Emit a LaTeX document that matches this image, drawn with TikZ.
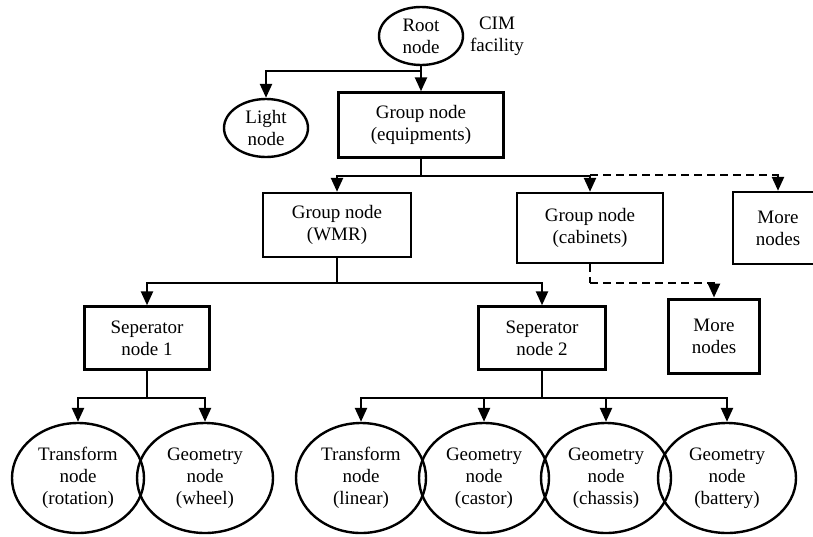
\documentclass[tikz,border=0pt]{standalone}
\usepackage{fontspec}
\setmainfont{Liberation Serif}
\usetikzlibrary{shapes.geometric,arrows.meta}
\begin{document}
\begin{tikzpicture}[x=1pt,y=-1pt,
  every node/.style={font=\fontsize{19}{22}\selectfont,align=center,inner sep=0pt},
  boxnode/.style={draw,line width=2.4pt,rectangle},
  ellnode/.style={draw,line width=2.4pt,ellipse},
  conn/.style={line width=2.4pt},
  arr/.style={line width=2.4pt,-{Triangle[width=12pt,length=14pt]}},
  dashline/.style={dash pattern=on 8pt off 5pt}]
\useasboundingbox (0,0) rectangle (813,536);
\clip (0,0) rectangle (813,536);
% top
\node[ellnode,minimum width=84pt,minimum height=58pt] (root) at (421,36) {Root\\node};
\node (cim) at (497,36) {CIM\\facility};
\node[ellnode,minimum width=84pt,minimum height=58pt] (light) at (266,128) {Light\\node};
\node[boxnode,minimum width=165pt,minimum height=65pt] (equip) at (421,125) {Group node\\(equipments)};
% level 2
\node[boxnode,minimum width=148pt,minimum height=64pt] (wmr) at (337,225) {Group node\\(WMR)};
\node[boxnode,minimum width=146pt,minimum height=70pt] (cab) at (590,228) {Group node\\(cabinets)};
\node[boxnode,minimum width=90pt,minimum height=72pt] (more1) at (778,228) {More\\nodes};
% level 3
\node[boxnode,minimum width=125pt,minimum height=63pt] (sep1) at (147,338) {Seperator\\node 1};
\node[boxnode,minimum width=127pt,minimum height=63pt] (sep2) at (542,338) {Seperator\\node 2};
\node[boxnode,line width=3pt,minimum width=91pt,minimum height=74pt] (more2) at (714,336) {More\\nodes};
% leaves
\node[ellnode,minimum width=132pt,minimum height=110pt] (t1) at (78,478) {Transform\\node\\(rotation)};
\node[ellnode,minimum width=136pt,minimum height=110pt] (g1) at (205,478) {Geometry\\node\\(wheel)};
\node[ellnode,minimum width=130pt,minimum height=110pt] (t2) at (361,478) {Transform\\node\\(linear)};
\node[ellnode,minimum width=130pt,minimum height=110pt] (g2) at (484,478) {Geometry\\node\\(castor)};
\node[ellnode,minimum width=130pt,minimum height=110pt] (g3) at (606,478) {Geometry\\node\\(chassis)};
\node[ellnode,minimum width=138pt,minimum height=110pt] (g4) at (727,478) {Geometry\\node\\(battery)};
% connectors
\draw[arr] (root.south) -- ++(0,5) -| (light.north);
\draw[arr] (root.south) -- (equip.north);
\draw[arr] (equip.south) -- ++(0,17) -| (wmr.north);
\draw[arr] (equip.south) -- ++(0,17) -| (cab.north);
\coordinate (j1) at (590,175);
\draw[arr,dashline] (j1) -| (more1.north);
\draw[conn,dashline] (cab.south) -- ++(0,19) coordinate (j2);
\draw[arr,dashline] (j2) -| (more2.north);
\draw[arr] (wmr.south) -- ++(0,25) -| (sep1.north);
\draw[arr] (wmr.south) -- ++(0,25) -| (sep2.north);
\draw[arr] (sep1.south) -- ++(0,27) -| (t1.north);
\draw[arr] (sep1.south) -- ++(0,27) -| (g1.north);
\draw[arr] (sep2.south) -- ++(0,27) -| (t2.north);
\draw[arr] (sep2.south) -- ++(0,27) -| (g2.north);
\draw[arr] (sep2.south) -- ++(0,27) -| (g3.north);
\draw[arr] (sep2.south) -- ++(0,27) -| (g4.north);
\end{tikzpicture}
\end{document}
